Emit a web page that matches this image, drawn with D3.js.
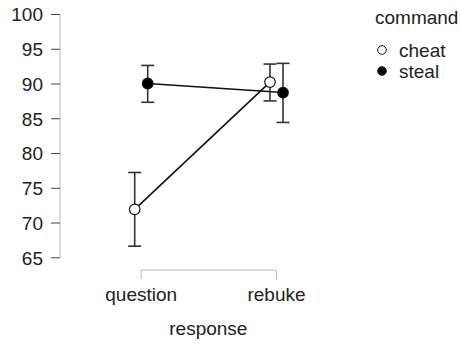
<!DOCTYPE html>
<html>
<head>
<meta charset="utf-8">
<script src="https://cdn.jsdelivr.net/npm/d3@7"></script>
<style>
  body { margin: 0; background: #fff; }
  text { font-family: "Liberation Sans", Arial, sans-serif; fill: #222; }
</style>
</head>
<body>
<div id="chart"></div>
<script>
// data
var responses = ["question", "rebuke"];
var commands = ["cheat", "steal"];
var cheatMean = [71.9, 90.2];
var cheatLow  = [66.6, 87.5];
var cheatHigh = [77.2, 92.8];
var stealMean = [90.0, 88.7];
var stealLow  = [87.3, 84.4];
var stealHigh = [92.6, 92.9];
var yTicks = [65, 70, 75, 80, 85, 90, 95, 100];

var width = 460, height = 345;

var series = [
    { name: "cheat", fill: "#fff", mean: cheatMean, low: cheatLow, high: cheatHigh },
    { name: "steal", fill: "#000", mean: stealMean, low: stealLow, high: stealHigh }
];

var xScale = d3.scalePoint().domain(responses).range([140.7, 276]);
var dodge = d3.scaleOrdinal().domain(commands).range([-6, 7]);
var yScale = d3.scaleLinear().domain([65, 100]).range([257.3, 14]);

var svg = d3.select("#chart")
    .append("svg")
    .attr("width", width)
    .attr("height", height);

// y axis
var yAxis = svg.append("g")
    .attr("transform", "translate(60,0)")
    .call(d3.axisLeft(yScale).tickValues(yTicks).tickSize(9).tickPadding(8));
yAxis.select(".domain").attr("stroke", "#bbb").attr("d", "M0," + yScale(65) + "V" + yScale(100));
yAxis.selectAll(".tick line").attr("stroke", "#444");
yAxis.selectAll("text").style("font-size", "19px").attr("fill", "#222").attr("dy", "0.36em");

// x axis (bracket style)
var xAxis = svg.append("g")
    .attr("transform", "translate(0,270)")
    .call(d3.axisBottom(xScale).tickSize(9).tickPadding(9).tickSizeOuter(0));
xAxis.select(".domain").attr("stroke", "#bbb")
    .attr("d", "M" + xScale("question") + ",0H" + xScale("rebuke"));
xAxis.selectAll(".tick line").attr("stroke", "#bbb");
xAxis.selectAll("text").style("font-size", "19px").attr("fill", "#222");

svg.append("text")
    .attr("x", (xScale("question") + xScale("rebuke")) / 2)
    .attr("y", 335)
    .attr("text-anchor", "middle")
    .style("font-size", "19px")
    .text("response");

// series
var g = svg.append("g")
    .selectAll("g")
    .data(series)
    .enter()
    .append("g");

g.append("path")
    .attr("fill", "none")
    .attr("stroke", "#111")
    .attr("stroke-width", 1.6)
    .attr("d", function(s) {
        return d3.line()
            .x(function(d, i) { return xScale(responses[i]) + dodge(s.name); })
            .y(function(d) { return yScale(d); })(s.mean);
    });

g.each(function(s) {
    var sel = d3.select(this);
    var idx = d3.range(responses.length);
    var bars = sel.selectAll("g.err").data(idx).enter().append("g").attr("class", "err")
        .attr("stroke", "#333").attr("stroke-width", 1.6);
    bars.append("line")
        .attr("x1", function(i) { return xScale(responses[i]) + dodge(s.name); })
        .attr("x2", function(i) { return xScale(responses[i]) + dodge(s.name); })
        .attr("y1", function(i) { return yScale(s.low[i]); })
        .attr("y2", function(i) { return yScale(s.high[i]); });
    ["low", "high"].forEach(function(k) {
        bars.append("line")
            .attr("x1", function(i) { return xScale(responses[i]) + dodge(s.name) - 6.5; })
            .attr("x2", function(i) { return xScale(responses[i]) + dodge(s.name) + 6.5; })
            .attr("y1", function(i) { return yScale(s[k][i]); })
            .attr("y2", function(i) { return yScale(s[k][i]); });
    });
});

g.each(function(s) {
    d3.select(this).selectAll("circle")
        .data(s.mean)
        .enter()
        .append("circle")
        .attr("cx", function(d, i) { return xScale(responses[i]) + dodge(s.name); })
        .attr("cy", function(d) { return yScale(d); })
        .attr("r", 5.3)
        .attr("fill", s.fill)
        .attr("stroke", "#111")
        .attr("stroke-width", 1.2);
});

// legend
var legend = svg.append("g");
legend.append("text")
    .attr("x", 375)
    .attr("y", 24)
    .style("font-size", "19px")
    .text("command");
var item = legend.selectAll("g.item")
    .data(series)
    .enter()
    .append("g")
    .attr("class", "item")
    .attr("transform", function(d, i) { return "translate(382," + (50 + i * 21) + ")"; });
item.append("circle")
    .attr("r", 4.3)
    .attr("fill", function(d) { return d.fill; })
    .attr("stroke", "#111")
    .attr("stroke-width", 1);
item.append("text")
    .attr("x", 17)
    .attr("dy", "0.36em")
    .style("font-size", "19px")
    .text(function(d) { return d.name; });
</script>
</body>
</html>
